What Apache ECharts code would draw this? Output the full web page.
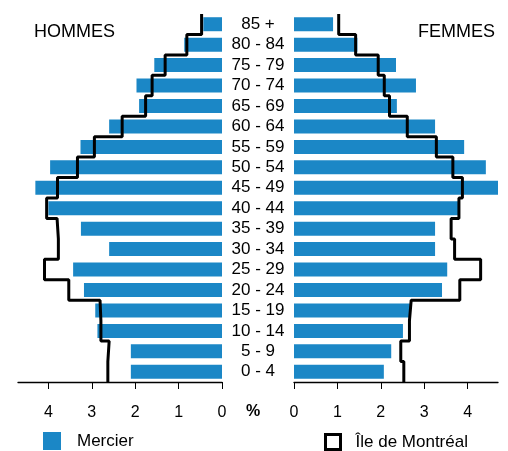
<!DOCTYPE html>
<html>
<head>
<meta charset="utf-8">
<script src="https://cdn.jsdelivr.net/npm/echarts@6/dist/echarts.min.js"></script>
<style>
html, body { margin: 0; padding: 0; background: #fff; }
#chart-pyramide { width: 508px; height: 451px; }
</style>
</head>
<body>
<div id="chart-pyramide"></div>
<script>
// groupes d'âge, du bas vers le haut
var ageGroups = ['0 - 4', '5 - 9', '10 - 14', '15 - 19', '20 - 24', '25 - 29', '30 - 34', '35 - 39', '40 - 44',
  '45 - 49', '50 - 54', '55 - 59', '60 - 64', '65 - 69', '70 - 74', '75 - 79', '80 - 84', '85 +']
// en % de la population
var mercierHommes = [2.10, 2.10, 2.87, 2.92, 3.18, 3.43, 2.60, 3.25, 4.00, 4.30, 3.96, 3.26, 2.60, 1.91, 1.97, 1.56, 0.87, 0.43]
var mercierFemmes = [2.07, 2.24, 2.51, 2.67, 3.41, 3.53, 3.25, 3.25, 3.80, 4.70, 4.42, 3.92, 3.25, 2.37, 2.81, 2.35, 1.46, 0.90]
var montrealHommes = [2.63, 2.60, 2.79, 2.81, 3.53, 4.09, 3.77, 3.80, 4.04, 3.79, 3.33, 2.94, 2.30, 1.76, 1.61, 1.31, 0.81, 0.47]
var montrealFemmes = [2.53, 2.46, 2.66, 2.70, 3.82, 4.30, 3.70, 3.62, 3.80, 3.88, 3.66, 3.28, 2.61, 2.20, 2.08, 1.94, 1.42, 1.03]
var axisTicks = [0, 1, 2, 3, 4]

var bleu = '#1b87c6'
var police = '"Liberation Sans", Arial, sans-serif'

// chaque groupe devient une marche : du bas au haut de sa bande
function marches (valeurs) {
  var pts = []
  valeurs.forEach(function (v, i) {
    pts.push([v, i], [v, i + 1])
  })
  return pts
}

function axeX (gridIndex, inverse) {
  return {
    type: 'value',
    gridIndex: gridIndex,
    inverse: inverse,
    min: 0,
    max: 4.7,
    axisLine: { show: true, lineStyle: { color: '#000', width: 1.3 } },
    axisTick: { show: true, length: 7, lineStyle: { color: '#000', width: 1 }, customValues: axisTicks },
    axisLabel: { color: '#000', fontSize: 16, fontFamily: police, margin: 23, customValues: axisTicks },
    splitLine: { show: false }
  }
}

var myChart = echarts.init(document.getElementById('chart-pyramide'))
var option = {
  animation: false,
  backgroundColor: '#fff',
  textStyle: { fontFamily: police },
  grid: [
    { left: 18, top: 14, width: 204, height: 368 },
    { left: 294, top: 14, width: 204, height: 368 }
  ],
  xAxis: [axeX(0, true), axeX(1, false)],
  yAxis: [
    { type: 'category', gridIndex: 0, data: ageGroups, show: false },
    { type: 'value', gridIndex: 0, min: 0, max: 18, show: false },
    {
      type: 'category',
      gridIndex: 1,
      data: ageGroups,
      position: 'left',
      axisLine: { show: false },
      axisTick: { show: false },
      axisLabel: { interval: 0, color: '#000', fontSize: 17, fontFamily: police, align: 'center', margin: 36 }
    },
    { type: 'value', gridIndex: 1, min: 0, max: 18, show: false }
  ],
  legend: [
    {
      data: [{ name: 'Mercier', icon: 'rect' }],
      left: 43,
      top: 432,
      padding: 0,
      itemWidth: 18,
      itemHeight: 18,
      selectedMode: false,
      textStyle: { fontSize: 17, color: '#000', padding: [2, 0, 0, 11] }
    },
    {
      data: [{
        name: 'Île de Montréal',
        icon: 'rect',
        itemStyle: { color: '#fff', borderColor: '#000', borderWidth: 3 }
      }],
      left: 324,
      top: 433,
      padding: 0,
      itemWidth: 15,
      itemHeight: 15,
      selectedMode: false,
      textStyle: { fontSize: 17, color: '#000', padding: [2, 0, 0, 10] }
    }
  ],
  graphic: [
    { type: 'text', left: 34, top: 23, style: { text: 'HOMMES', font: '18px ' + police, fill: '#000' } },
    { type: 'text', right: 13, top: 23, style: { text: 'FEMMES', font: '18px ' + police, fill: '#000' } },
    { type: 'text', x: 253, y: 412, style: { text: '%', font: 'bold 16px ' + police, fill: '#000', align: 'center', verticalAlign: 'middle' } }
  ],
  series: [
    {
      name: 'Mercier',
      type: 'bar',
      xAxisIndex: 0,
      yAxisIndex: 0,
      barWidth: 14,
      data: mercierHommes,
      itemStyle: { color: bleu }
    },
    {
      name: 'Mercier',
      type: 'bar',
      xAxisIndex: 1,
      yAxisIndex: 2,
      barWidth: 14,
      data: mercierFemmes,
      itemStyle: { color: bleu }
    },
    {
      name: 'Île de Montréal',
      type: 'line',
      xAxisIndex: 0,
      yAxisIndex: 1,
      symbol: 'none',
      data: marches(montrealHommes),
      lineStyle: { color: '#000', width: 3 },
      itemStyle: { color: '#000' },
      z: 5
    },
    {
      name: 'Île de Montréal',
      type: 'line',
      xAxisIndex: 1,
      yAxisIndex: 3,
      symbol: 'none',
      data: marches(montrealFemmes),
      lineStyle: { color: '#000', width: 3 },
      itemStyle: { color: '#000' },
      z: 5
    }
  ]
}
myChart.setOption(option)
</script>
</body>
</html>
